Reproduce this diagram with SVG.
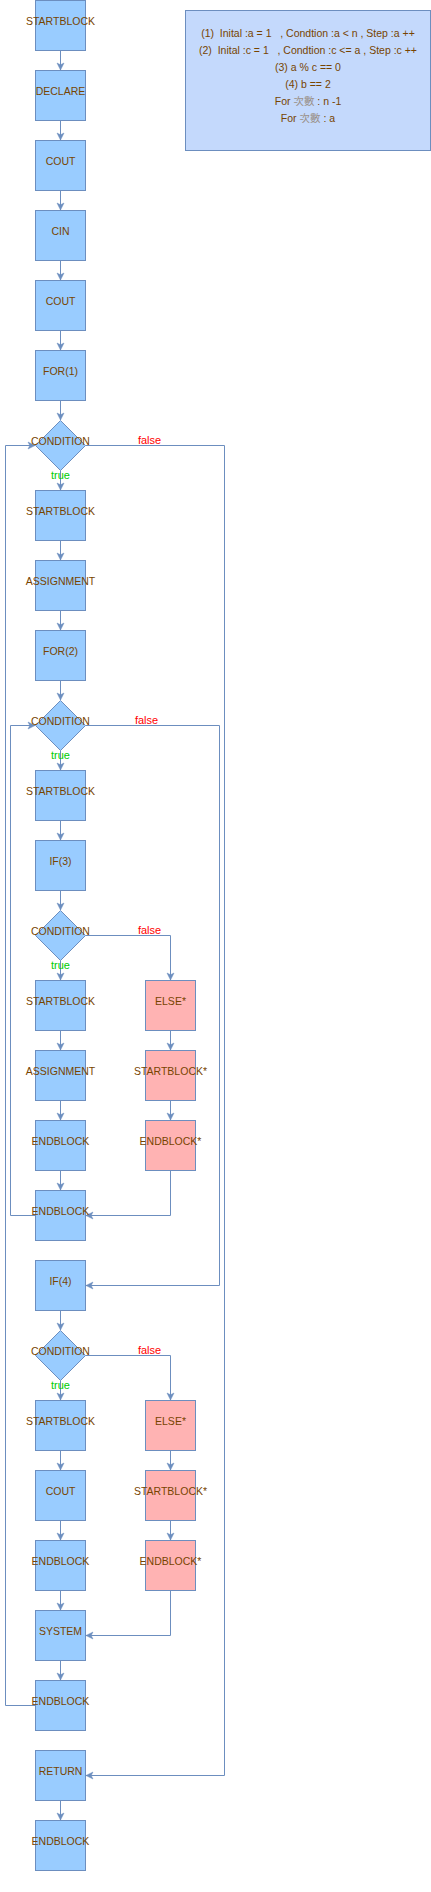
<svg xmlns="http://www.w3.org/2000/svg" width="431" height="1892" viewBox="0 0 431 1892">
<style>
.b{fill:#99ccff;stroke:#6c8ebf;stroke-width:1}
.p{fill:#ffb3b3;stroke:#6c8ebf;stroke-width:1}
.t{font-family:"Liberation Sans",Arial,"Noto Sans CJK TC",sans-serif;font-size:10.5px;fill:#774400;text-anchor:middle;white-space:pre}
.e{fill:none;stroke:#6c8ebf;stroke-width:1;marker-end:url(#a)}
.tr{font-family:"Liberation Sans",Arial,sans-serif;font-size:11px;fill:#00cc00;text-anchor:middle}
.fa{font-family:"Liberation Sans",Arial,sans-serif;font-size:11px;fill:#ff0000;text-anchor:middle}
.cj{fill:#9a9088}
</style>
<defs>
<marker id="a" markerUnits="userSpaceOnUse" markerWidth="10" markerHeight="10" viewBox="-8 -5 10 10" refX="0" refY="0" orient="auto">
<path d="M0,0 L-7,-3.5 L-5.2,0 L-7,3.5 Z" fill="#6c8ebf" stroke="#6c8ebf" stroke-width="0.5"/>
</marker>
</defs>
<g id="connectors">
<path class="e" d="M60.5,50.5 V70"/>
<path class="e" d="M60.5,120.5 V140"/>
<path class="e" d="M60.5,190.5 V210"/>
<path class="e" d="M60.5,260.5 V280"/>
<path class="e" d="M60.5,330.5 V350"/>
<path class="e" d="M60.5,400.5 V420"/>
<path class="e" d="M60.5,470.5 V490"/>
<path class="e" d="M60.5,540.5 V560"/>
<path class="e" d="M60.5,610.5 V630"/>
<path class="e" d="M60.5,680.5 V700"/>
<path class="e" d="M60.5,750.5 V770"/>
<path class="e" d="M60.5,820.5 V840"/>
<path class="e" d="M60.5,890.5 V910"/>
<path class="e" d="M60.5,960.5 V980"/>
<path class="e" d="M60.5,1030.5 V1050"/>
<path class="e" d="M60.5,1100.5 V1120"/>
<path class="e" d="M60.5,1170.5 V1190"/>
<path class="e" d="M60.5,1310.5 V1330"/>
<path class="e" d="M60.5,1380.5 V1400"/>
<path class="e" d="M60.5,1450.5 V1470"/>
<path class="e" d="M60.5,1520.5 V1540"/>
<path class="e" d="M60.5,1590.5 V1610"/>
<path class="e" d="M60.5,1660.5 V1680"/>
<path class="e" d="M60.5,1800.5 V1820"/>
<path class="e" d="M170.5,1030.5 V1050"/>
<path class="e" d="M170.5,1100.5 V1120"/>
<path class="e" d="M170.5,1450.5 V1470"/>
<path class="e" d="M170.5,1520.5 V1540"/>
<path class="e" d="M85.5,445.5 H224.5 V1775.5 H86"/>
<path class="e" d="M35.5,1705.5 H5.5 V445.5 H35"/>
<path class="e" d="M85.5,725.5 H219.5 V1285.5 H86"/>
<path class="e" d="M35.5,1215.5 H10.5 V725.5 H35"/>
<path class="e" d="M85.5,935.5 H170.5 V980"/>
<path class="e" d="M170.5,1170.5 V1215.5 H86"/>
<path class="e" d="M85.5,1355.5 H170.5 V1400"/>
<path class="e" d="M170.5,1590.5 V1635.5 H86"/>
<text class="tr" x="60.5" y="479">true</text>
<text class="tr" x="60.5" y="759">true</text>
<text class="tr" x="60.5" y="969">true</text>
<text class="tr" x="60.5" y="1389">true</text>
<text class="fa" x="149.5" y="443.5">false</text>
<text class="fa" x="146.5" y="723.5">false</text>
<text class="fa" x="149.5" y="933.5">false</text>
<text class="fa" x="149.5" y="1353.5">false</text>
</g>
<g id="n1"><rect class="b" x="35.5" y="0.5" width="50" height="50"/><text class="t" x="60.5" y="24.5">STARTBLOCK</text></g>
<g id="n2"><rect class="b" x="35.5" y="70.5" width="50" height="50"/><text class="t" x="60.5" y="94.5">DECLARE</text></g>
<g id="n3"><rect class="b" x="35.5" y="140.5" width="50" height="50"/><text class="t" x="60.5" y="164.5">COUT</text></g>
<g id="n4"><rect class="b" x="35.5" y="210.5" width="50" height="50"/><text class="t" x="60.5" y="234.5">CIN</text></g>
<g id="n5"><rect class="b" x="35.5" y="280.5" width="50" height="50"/><text class="t" x="60.5" y="304.5">COUT</text></g>
<g id="n6"><rect class="b" x="35.5" y="350.5" width="50" height="50"/><text class="t" x="60.5" y="374.5">FOR(1)</text></g>
<g id="d1"><path class="b" d="M60.5,420.5 L85.5,445.5 L60.5,470.5 L35.5,445.5 Z"/><text class="t" x="60.5" y="444.5">CONDITION</text></g>
<g id="n7"><rect class="b" x="35.5" y="490.5" width="50" height="50"/><text class="t" x="60.5" y="514.5">STARTBLOCK</text></g>
<g id="n8"><rect class="b" x="35.5" y="560.5" width="50" height="50"/><text class="t" x="60.5" y="584.5">ASSIGNMENT</text></g>
<g id="n9"><rect class="b" x="35.5" y="630.5" width="50" height="50"/><text class="t" x="60.5" y="654.5">FOR(2)</text></g>
<g id="d2"><path class="b" d="M60.5,700.5 L85.5,725.5 L60.5,750.5 L35.5,725.5 Z"/><text class="t" x="60.5" y="724.5">CONDITION</text></g>
<g id="n10"><rect class="b" x="35.5" y="770.5" width="50" height="50"/><text class="t" x="60.5" y="794.5">STARTBLOCK</text></g>
<g id="n11"><rect class="b" x="35.5" y="840.5" width="50" height="50"/><text class="t" x="60.5" y="864.5">IF(3)</text></g>
<g id="d3"><path class="b" d="M60.5,910.5 L85.5,935.5 L60.5,960.5 L35.5,935.5 Z"/><text class="t" x="60.5" y="934.5">CONDITION</text></g>
<g id="n12"><rect class="b" x="35.5" y="980.5" width="50" height="50"/><text class="t" x="60.5" y="1004.5">STARTBLOCK</text></g>
<g id="n13"><rect class="b" x="35.5" y="1050.5" width="50" height="50"/><text class="t" x="60.5" y="1074.5">ASSIGNMENT</text></g>
<g id="n14"><rect class="b" x="35.5" y="1120.5" width="50" height="50"/><text class="t" x="60.5" y="1144.5">ENDBLOCK</text></g>
<g id="n15"><rect class="b" x="35.5" y="1190.5" width="50" height="50"/><text class="t" x="60.5" y="1214.5">ENDBLOCK</text></g>
<g id="e1"><rect class="p" x="145.5" y="980.5" width="50" height="50"/><text class="t" x="170.5" y="1004.5">ELSE*</text></g>
<g id="e2"><rect class="p" x="145.5" y="1050.5" width="50" height="50"/><text class="t" x="170.5" y="1074.5">STARTBLOCK*</text></g>
<g id="e3"><rect class="p" x="145.5" y="1120.5" width="50" height="50"/><text class="t" x="170.5" y="1144.5">ENDBLOCK*</text></g>
<g id="n16"><rect class="b" x="35.5" y="1260.5" width="50" height="50"/><text class="t" x="60.5" y="1284.5">IF(4)</text></g>
<g id="d4"><path class="b" d="M60.5,1330.5 L85.5,1355.5 L60.5,1380.5 L35.5,1355.5 Z"/><text class="t" x="60.5" y="1354.5">CONDITION</text></g>
<g id="n17"><rect class="b" x="35.5" y="1400.5" width="50" height="50"/><text class="t" x="60.5" y="1424.5">STARTBLOCK</text></g>
<g id="n18"><rect class="b" x="35.5" y="1470.5" width="50" height="50"/><text class="t" x="60.5" y="1494.5">COUT</text></g>
<g id="n19"><rect class="b" x="35.5" y="1540.5" width="50" height="50"/><text class="t" x="60.5" y="1564.5">ENDBLOCK</text></g>
<g id="e4"><rect class="p" x="145.5" y="1400.5" width="50" height="50"/><text class="t" x="170.5" y="1424.5">ELSE*</text></g>
<g id="e5"><rect class="p" x="145.5" y="1470.5" width="50" height="50"/><text class="t" x="170.5" y="1494.5">STARTBLOCK*</text></g>
<g id="e6"><rect class="p" x="145.5" y="1540.5" width="50" height="50"/><text class="t" x="170.5" y="1564.5">ENDBLOCK*</text></g>
<g id="n20"><rect class="b" x="35.5" y="1610.5" width="50" height="50"/><text class="t" x="60.5" y="1634.5">SYSTEM</text></g>
<g id="n21"><rect class="b" x="35.5" y="1680.5" width="50" height="50"/><text class="t" x="60.5" y="1704.5">ENDBLOCK</text></g>
<g id="n22"><rect class="b" x="35.5" y="1750.5" width="50" height="50"/><text class="t" x="60.5" y="1774.5">RETURN</text></g>
<g id="n23"><rect class="b" x="35.5" y="1820.5" width="50" height="50"/><text class="t" x="60.5" y="1844.5">ENDBLOCK</text></g>
<g id="legend">
<rect x="185.5" y="10.5" width="245" height="140" fill="#c4d9fc" stroke="#6c8ebf" stroke-width="1"/>
<text class="t" x="308" y="37">(1)  Inital :a = 1   , Condtion :a &lt; n , Step :a ++</text>
<text class="t" x="308" y="54">(2)  Inital :c = 1   , Condtion :c &lt;= a , Step :c ++</text>
<text class="t" x="308" y="71">(3) a % c == 0</text>
<text class="t" x="308" y="88">(4) b == 2</text>
<text class="t" x="308" y="105">For <tspan class="cj">次數</tspan> : n -1</text>
<text class="t" x="308" y="122">For <tspan class="cj">次數</tspan> : a</text>
</g>
</svg>
